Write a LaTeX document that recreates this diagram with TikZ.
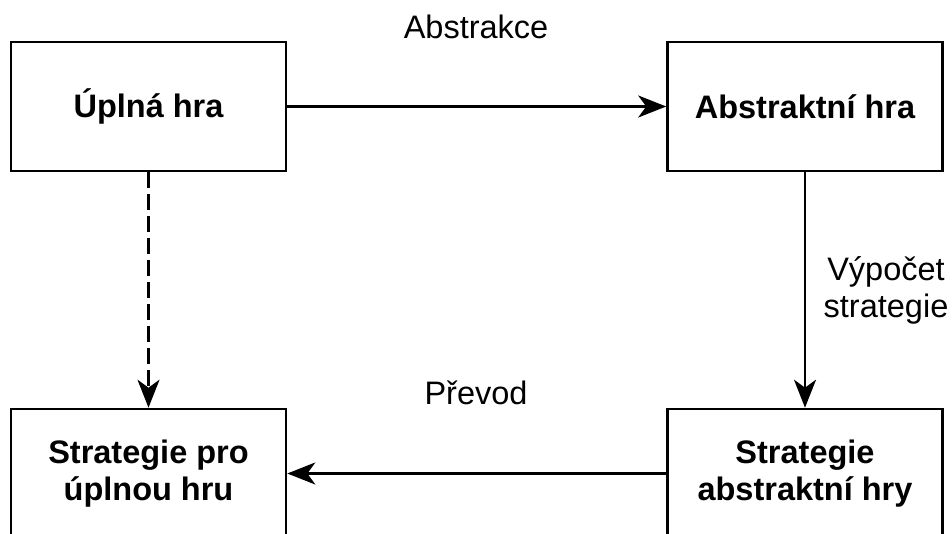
\documentclass[tikz,border=0pt]{standalone}
\usepackage{fontspec}
\setmainfont{Liberation Sans}
\usepackage{tikz}
\usetikzlibrary{arrows.meta, positioning}

\begin{document}
\begin{tikzpicture}[
    x=1pt, y=-1pt,
    -{Stealth[length=28pt, width=22pt, inset=8pt]}, line width=2.6pt, draw=black,
    box/.style={rectangle, draw, minimum width=275pt, minimum height=129pt,
        align=center, font=\fontsize{32.5}{37}\selectfont\bfseries},
    edge label/.style={font=\fontsize{32.5}{37}\selectfont, align=center, inner sep=0pt}
]
\clip (0,0) rectangle (952,534);

% Nodes
\node[box] (full) at (148.5,106.5) {Úplná hra};
\node[box] (abs) at (805,106.5) {Abstraktní hra};
\node[box] (fullstrat) at (148.5,473.5) {Strategie pro\\úplnou hru};
\node[box] (absstrat) at (805,473.5) {Strategie\\abstraktní hry};

% Labels
\node[edge label] (abstr) at (476,27) {Abstrakce};
\node[edge label] (vyp) at (886,290) {Výpočet\\strategie};
\node[edge label] (prev) at (476,393) {Převod};

% Edges
\draw (full) -- (abs);
\draw (abs) -- (absstrat);
\draw (absstrat) -- (fullstrat);
\draw[dash pattern=on 16pt off 6pt] (full) -- (fullstrat);

\end{tikzpicture}
\end{document}
